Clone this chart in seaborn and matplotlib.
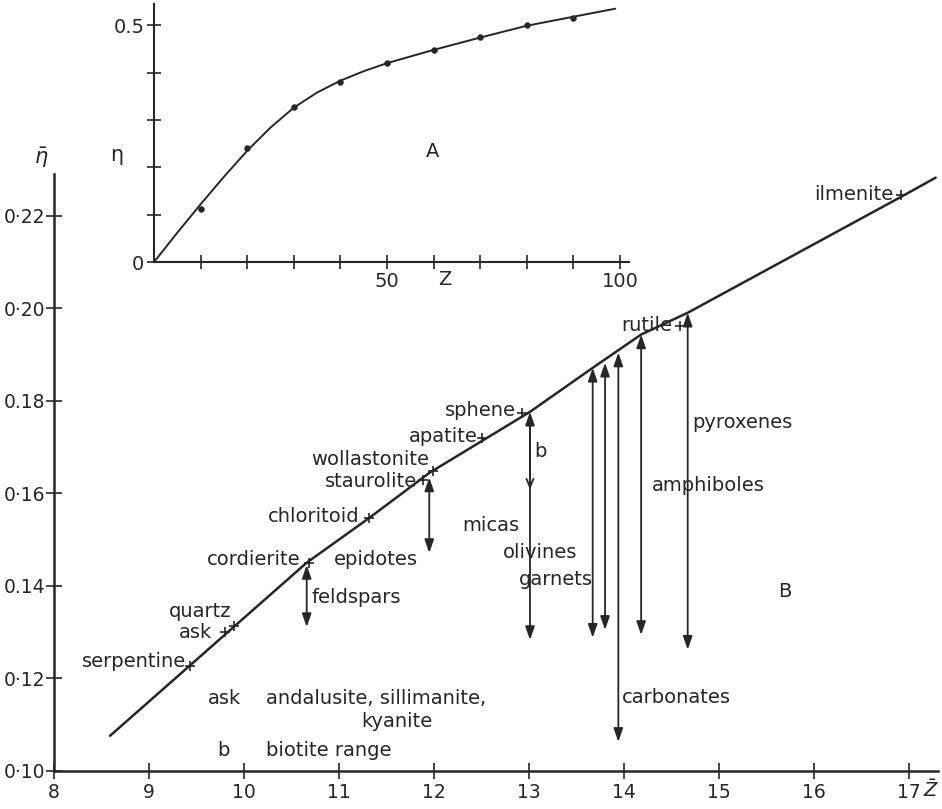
import numpy as np
import matplotlib
matplotlib.use("Agg")
import matplotlib.pyplot as plt
import pandas as pd
import seaborn as sns

# --- data ---
# B: mean backscatter coefficient vs mean atomic number
line_z = [8.59, 10.66, 11.32, 11.95, 13.01, 13.67, 14.18, 14.67, 16.92, 17.28]
line_eta = [0.1076, 0.1450, 0.1547, 0.1644, 0.1776, 0.1871, 0.1943, 0.1990, 0.2241, 0.2282]

minerals = ["serpentine", "ask", "quartz", "cordierite", "chloritoid", "staurolite",
            "wollastonite", "apatite", "sphene", "rutile", "ilmenite"]
mineral_z = [9.43, 9.80, 9.90, 10.68, 11.32, 11.88, 11.99, 12.51, 12.93, 14.59, 16.92]
mineral_eta = [0.1227, 0.1301, 0.1314, 0.1450, 0.1547, 0.1629, 0.1649, 0.1720, 0.1774, 0.1962, 0.2245]

ranges = ["feldspars", "epidotes", "micas", "olivines", "garnets", "carbonates", "amphiboles", "pyroxenes"]
range_z = [10.66, 11.95, 13.01, 13.67, 13.80, 13.94, 14.18, 14.67]
range_top = [0.1445, 0.1634, 0.1776, 0.1871, 0.1882, 0.1904, 0.1943, 0.1990]
range_bottom = [0.1311, 0.1471, 0.1283, 0.1288, 0.1305, 0.1063, 0.1294, 0.1262]
biotite_bottom = 0.1608

# A: backscatter coefficient vs Z
inset_z = [10, 20, 30, 40, 50, 60, 70, 80, 90]
inset_eta = [0.113, 0.240, 0.328, 0.381, 0.420, 0.447, 0.475, 0.501, 0.516]
curve_z = [0, 5, 10, 15, 20, 25, 30, 35, 40, 45, 50, 60, 70, 80, 90, 99]
curve_eta = [0, 0.062, 0.122, 0.180, 0.235, 0.284, 0.326, 0.358, 0.383, 0.403,
             0.420, 0.448, 0.474, 0.499, 0.518, 0.535]

y_ticks = [0.10, 0.12, 0.14, 0.16, 0.18, 0.20, 0.22]
y_ticklabels = ["0·10", "0·12", "0.14", "0·16", "0.18", "0·20", "0·22"]
x_ticks = [8, 9, 10, 11, 12, 13, 14, 15, 16, 17]

INK = "#262626"
FS = 14

sns.set_style("ticks")
plt.rcParams["font.family"] = ["DejaVu Sans"]
plt.rcParams["text.color"] = INK
plt.rcParams["axes.edgecolor"] = INK
plt.rcParams["xtick.color"] = INK
plt.rcParams["ytick.color"] = INK
plt.rcParams["mathtext.fontset"] = "dejavusans"

fig = plt.figure(figsize=(9.42, 8.09), dpi=100)
fig.patch.set_facecolor("white")

# ---------------- main panel B ----------------
ax = fig.add_axes([0.0573, 0.047, 0.938, 0.738])
sns.lineplot(x=line_z, y=line_eta, ax=ax, color=INK, lw=1.8, sort=False)
sns.scatterplot(x=mineral_z, y=mineral_eta, ax=ax, marker="+", s=45, color=INK, linewidth=1.2, zorder=5)

for z, top, bot in zip(range_z, range_top, range_bottom):
    ax.annotate("", xy=(z, bot), xytext=(z, top),
                arrowprops=dict(arrowstyle="<|-|>,head_length=0.8,head_width=0.28",
                                color=INK, lw=1.3, shrinkA=0, shrinkB=0))
# biotite sub-range on the mica arrow
ax.annotate("", xy=(range_z[2], biotite_bottom), xytext=(range_z[2], range_top[2] - 0.002),
            arrowprops=dict(arrowstyle="->,head_length=0.6,head_width=0.25",
                            color=INK, lw=1.3, shrinkA=0, shrinkB=0))

ax.set_xlim(8, 17.3)
ax.set_ylim(0.10, 0.229)
ax.set_xticks(x_ticks)
ax.set_xticklabels([str(t) for t in x_ticks])
ax.set_yticks(y_ticks)
ax.set_yticklabels(y_ticklabels)
ax.tick_params(direction="inout", length=12, width=1.2, labelsize=FS - 0.5, pad=0)
ax.tick_params(axis="x", pad=3)
sns.despine(ax=ax)
for sp in ("left", "bottom"):
    ax.spines[sp].set_linewidth(1.8)

ax.text(7.87, 0.2325, r"$\bar{\eta}$", fontsize=FS + 1, ha="center", va="center", clip_on=False)
ax.text(17.23, 0.0958, r"$\bar{Z}$", fontsize=FS, ha="center", va="center", clip_on=False)

right_labels = [("ilmenite", 16.84, 0.2245), ("rutile", 14.51, 0.1962), ("sphene", 12.86, 0.1778),
                ("apatite", 12.46, 0.1722), ("wollastonite", 11.95, 0.1672), ("staurolite", 11.82, 0.1625),
                ("chloritoid", 11.22, 0.1549), ("cordierite", 10.59, 0.1456), ("quartz", 9.87, 0.1344),
                ("ask", 9.66, 0.1300), ("serpentine", 9.39, 0.1236), ("micas", 12.90, 0.1530)]
for txt, x, y in right_labels:
    ax.text(x, y, txt, fontsize=FS, ha="right", va="center")

left_labels = [("b", 13.06, 0.1690), ("pyroxenes", 14.72, 0.1752), ("amphiboles", 14.29, 0.1616),
               ("olivines", 12.72, 0.1471), ("garnets", 12.89, 0.1413), ("feldspars", 10.71, 0.1374),
               ("epidotes", 10.95, 0.1456), ("carbonates", 13.98, 0.1158),
               ("ask", 9.62, 0.1156), ("andalusite, sillimanite,", 10.23, 0.1156),
               ("kyanite", 11.23, 0.1106), ("b", 9.72, 0.1045), ("biotite range", 10.23, 0.1045)]
for txt, x, y in left_labels:
    ax.text(x, y, txt, fontsize=FS, ha="left", va="center")
ax.text(15.69, 0.1387, "B", fontsize=FS, ha="center", va="center")

# ---------------- inset panel A ----------------
ax_in = fig.add_axes([0.1635, 0.6761, 0.5045, 0.319])
ax_in.patch.set_alpha(0)
sns.lineplot(x=curve_z, y=curve_eta, ax=ax_in, color=INK, lw=1.4, sort=False)
sns.scatterplot(x=inset_z, y=inset_eta, ax=ax_in, s=18, color=INK, edgecolor=INK, zorder=5)
ax_in.set_xlim(0, 102)
ax_in.set_ylim(0, 0.545)
ax_in.set_xticks(range(10, 101, 10))
ax_in.set_xticklabels(["" if t not in (50, 100) else str(t) for t in range(10, 101, 10)])
ax_in.set_yticks([0, 0.1, 0.2, 0.3, 0.4, 0.5])
ax_in.set_yticklabels(["0", "", "", "", "", "0.5"])
ax_in.tick_params(direction="inout", length=10, width=1.2, labelsize=FS, pad=2)
sns.despine(ax=ax_in)
for sp in ("left", "bottom"):
    ax_in.spines[sp].set_linewidth(1.5)
ax_in.text(-8, 0.226, "η", fontsize=FS + 1, ha="center", va="center", clip_on=False)
ax_in.text(59.7, 0.234, "A", fontsize=FS, ha="center", va="center")
ax_in.text(62.4, -0.036, "Z", fontsize=FS, ha="center", va="center", clip_on=False)

fig.savefig("out.png", dpi=100, facecolor="white")
